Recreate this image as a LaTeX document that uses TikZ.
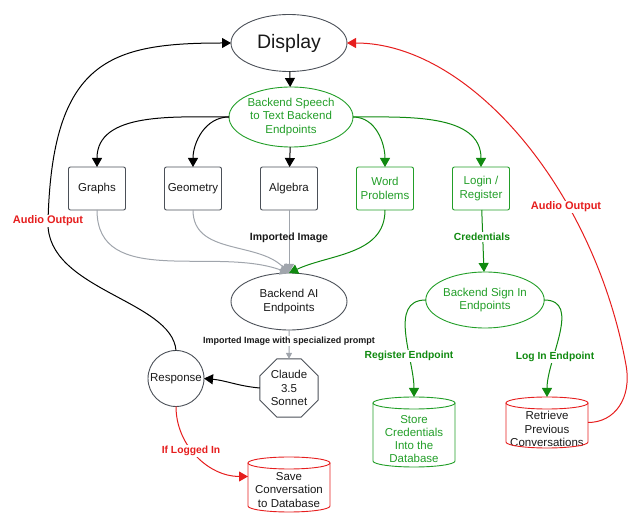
\documentclass[tikz,border=0pt]{standalone}
\usepackage{fontspec}
\setmainfont{Liberation Sans}
\usetikzlibrary{shapes.geometric,arrows.meta}
\definecolor{edgec}{RGB}{75,80,88}
\definecolor{grn}{RGB}{34,158,40}
\definecolor{grnA}{RGB}{16,138,16}
\definecolor{redc}{RGB}{230,30,30}
\definecolor{garr}{RGB}{160,165,172}
\definecolor{txt}{RGB}{25,25,25}
\newcommand{\cylout}[3]{%
  \draw[line width=0.9pt, draw=#2] ([yshift=-6pt]#1.north west) -- ([yshift=6pt]#1.south west)
    arc[start angle=180, end angle=360, x radius=#3, y radius=6pt] -- ([yshift=-6pt]#1.north east);
  \draw[line width=0.9pt, draw=#2] ([yshift=-6pt]#1.north) ellipse[x radius=#3, y radius=6pt];}
\begin{document}
\begin{tikzpicture}[x=1pt,y=-1pt,
  base/.style={draw=edgec, line width=0.9pt, text=txt, font=\fontsize{11.5}{13.3}\selectfont, align=center, inner sep=0pt, outer sep=0pt},
  ell/.style={base, ellipse},
  box/.style={base, rectangle, rounded corners=2pt, minimum width=57pt, minimum height=43pt},
  gnode/.style={draw=grn, text=grn},
  cyl/.style={rectangle, inner sep=0pt, outer sep=0pt, minimum width=82pt},
  ctext/.style={font=\fontsize{11.5}{13.3}\selectfont, align=center, inner sep=0pt, text=txt},
  arr/.style={line width=1pt, -{Triangle[length=9pt,width=10pt]}},
  sarr/.style={line width=1pt, -{Triangle[length=6pt,width=6pt]}},
  lbl/.style={font=\bfseries\fontsize{10.3}{12}\selectfont, inner sep=1pt, text=txt},
]
\useasboundingbox (0,0) rectangle (638,526);

% nodes
\node[ell, minimum width=116pt, minimum height=57pt, font=\fontsize{19.5}{22}\selectfont] (display) at (289,43) {Display};
\node[ell, gnode, minimum width=124pt, minimum height=60pt] (speech) at (291,117) {Backend Speech\\to Text Backend\\Endpoints};
\node[box] (graphs) at (97,188.5) {Graphs};
\node[box] (geometry) at (193,188.5) {Geometry};
\node[box] (algebra) at (289,188.5) {Algebra};
\node[box, gnode] (word) at (385,188.5) {Word\\Problems};
\node[box, gnode] (login) at (481,188.5) {Login /\\Register};
\node[ell, minimum width=116pt, minimum height=57pt] (ai) at (289,301.5) {Backend AI\\Endpoints};
\node[base, regular polygon, regular polygon sides=8, minimum size=63pt] (claude) at (289,388) {Claude\\3.5\\Sonnet};
\node[base, circle, minimum size=56pt] (response) at (176,378.5) {Response};
\node[ell, gnode, minimum width=116pt, minimum height=56pt] (signin) at (485,300) {Backend Sign In\\Endpoints};

\node[cyl, minimum height=55pt] (save) at (289,484.5) {};
\node[ctext] (savet) at (289,490) {Save\\Conversation\\to Database};
\cylout{save}{redc}{41pt}
\node[cyl, minimum height=70pt] (store) at (414,432) {};
\node[ctext, text=grn] (storet) at (414,439) {Store\\Credentials\\Into the\\Database};
\cylout{store}{grn}{41pt}
\node[cyl, minimum height=51pt] (retrieve) at (547,422.5) {};
\node[ctext] (retrievet) at (547,429) {Retrieve\\Previous\\Conversations};
\cylout{retrieve}{redc}{41pt}

% connectors
\draw[arr] (display) -- (speech);
\draw[arr] (speech.west) to[out=180,in=90] (graphs.north);
\draw[arr] (speech.west) to[out=180,in=90] (geometry.north);
\draw[arr] (speech) -- (algebra);
\draw[arr, color=grnA] (speech.east) to[out=0,in=90] (word.north);
\draw[arr, color=grnA] (speech.east) to[out=0,in=90] (login.north);

\draw[arr, color=garr] (graphs.south) to[out=-90,in=160] (ai.north);
\draw[arr, color=garr] (geometry.south) to[out=-90,in=135] (ai.north);
\draw[arr, color=garr] (algebra) -- (ai);
\draw[arr, color=grnA] (word.south) to[out=-90,in=25] (ai.north);
\node[lbl, font=\bfseries\fontsize{10.5}{12}\selectfont] (lblimg) at (289,238) {Imported Image};

\draw[sarr, color=garr] (ai) -- (claude);
\node[lbl, fill=white, font=\bfseries\fontsize{9}{11}\selectfont] (lblprompt) at (289,341) {Imported Image with specialized prompt};

\draw[arr] (claude.west) to[out=175,in=-5] (response.east);
\draw[arr] (response.north) .. controls (172,300) and (46,290) .. (48,222)
   .. controls (52,60) and (110,43) .. (display.west);
\node[lbl, fill=white, text=redc, font=\bfseries\fontsize{11}{13}\selectfont] (lblaudio1) at (48,221) {Audio Output};

\draw[arr, color=redc] (response.south) to[out=-90,in=180] ([yshift=8pt]save.west);
\node[lbl, fill=white, text=redc] (lbllogged) at (191,451) {If Logged In};

\draw[arr, color=grnA] (login) -- (signin);
\node[lbl, fill=white, text=grnA] (lblcred) at (482,237) {Credentials};

\draw[arr, color=grnA] (signin.west) to[out=180,in=90] (store.north);
\node[lbl, fill=white, text=grnA] (lblreg) at (409,356) {Register Endpoint};
\draw[arr, color=grnA] (signin.east) to[out=0,in=90] (retrieve.north);
\node[lbl, fill=white, text=grnA] (lbllogin) at (555,357) {Log In Endpoint};

\draw[arr, color=redc] (retrieve.east) .. controls (615,422.5) and (632,398) .. (626,365)
   .. controls (594,190) and (470,43) .. (display.east);
\node[lbl, fill=white, text=redc, font=\bfseries\fontsize{11}{13}\selectfont] (lblaudio2) at (566,207) {Audio Output};
\end{tikzpicture}
\end{document}
